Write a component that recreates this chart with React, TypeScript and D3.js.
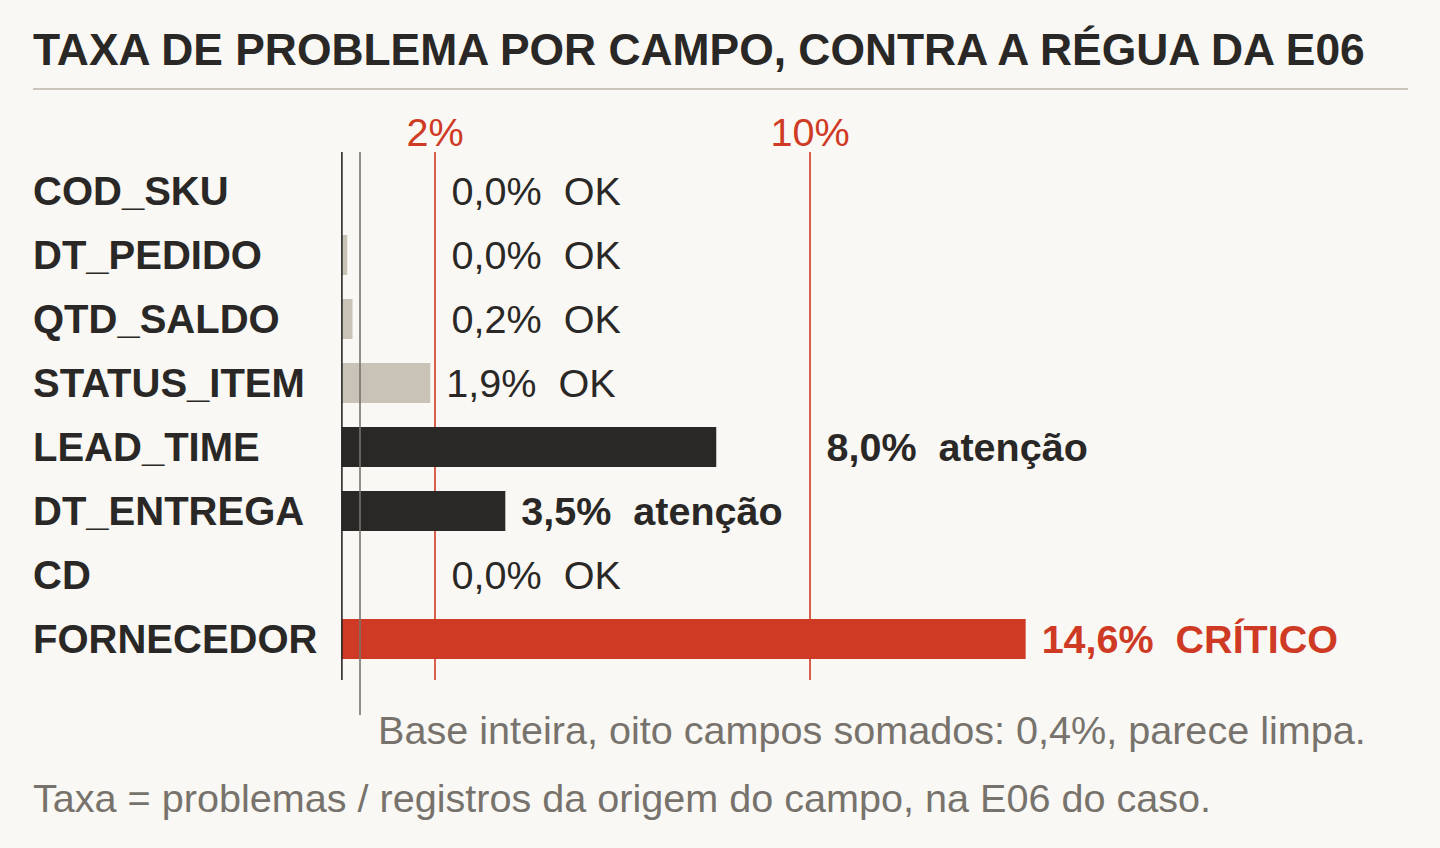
import React, { useEffect, useRef } from 'react';
import * as d3 from 'd3';

// campos, na ordem em que aparecem
const fields = ['COD_SKU', 'DT_PEDIDO', 'QTD_SALDO', 'STATUS_ITEM', 'LEAD_TIME', 'DT_ENTREGA', 'CD', 'FORNECEDOR'];
// taxa de problema (%)
const rates = [0.0, 0.04, 0.24, 1.9, 8.0, 3.5, 0.0, 14.6];
const statuses = ['OK', 'OK', 'OK', 'OK', 'atenção', 'atenção', 'OK', 'CRÍTICO'];
// régua da E06
const thresholds = [2, 10];
const thresholdLabels = ['2%', '10%'];
const baseRate = 0.4;

const title = 'TAXA DE PROBLEMA POR CAMPO, CONTRA A RÉGUA DA E06';
const baseNote = 'Base inteira, oito campos somados: 0,4%, parece limpa.';
const footNote = 'Taxa = problemas / registros da origem do campo, na E06 do caso.';

const W = 1440;
const H = 848;
const FONT = '"Liberation Sans", Arial, Helvetica, sans-serif';
const colors = {
    bg: '#f9f8f4',
    ink: '#2a2826',
    muted: '#77736c',
    rule: '#cbc5bb',
    ok: '#c9c2b7',
    warn: '#2a2826',
    crit: '#cf3a25',
    base: '#77736c',
};
const statusColor: Record<string, string> = { 'OK': colors.ok, 'atenção': colors.warn, 'CRÍTICO': colors.crit };
const labelColor: Record<string, string> = { 'OK': colors.ink, 'atenção': colors.ink, 'CRÍTICO': colors.crit };

const fmt = (v: number) => v.toFixed(1).replace('.', ',') + '%';

export default function App() {
    const ref = useRef<SVGSVGElement>(null);

    useEffect(() => {
        if (!ref.current) return;
        const svg = d3.select(ref.current);
        svg.selectAll('*').remove();

        const x = d3.scaleLinear().domain([0, 15]).range([341.25, 1044.4]);
        const y = d3.scaleBand<string>().domain(fields).range([159, 671]).paddingInner(0.375).paddingOuter(0.1875);
        const top = 152;
        const bottom = 680;
        const fs = 40;
        const fsText = 39.6;
        const capMid = fs * 0.716 / 2;

        svg.append('rect').attr('width', W).attr('height', H).attr('fill', colors.bg);

        // título e régua
        svg.append('text')
            .attr('x', 33).attr('y', 65)
            .attr('font-family', FONT).attr('font-size', 44.4).attr('font-weight', 700)
            .attr('fill', colors.ink)
            .text(title);
        svg.append('line')
            .attr('x1', 33).attr('x2', 1408).attr('y1', 89).attr('y2', 89)
            .attr('stroke', colors.rule).attr('stroke-width', 2);

        // linhas de limite
        const th = svg.append('g');
        th.selectAll('line').data(thresholds).join('line')
            .attr('x1', d => x(d)).attr('x2', d => x(d))
            .attr('y1', top).attr('y2', bottom)
            .attr('stroke', colors.crit).attr('stroke-width', 1.6);
        th.selectAll('text').data(thresholds).join('text')
            .attr('x', d => x(d)).attr('y', 146)
            .attr('text-anchor', 'middle')
            .attr('font-family', FONT).attr('font-size', fsText)
            .attr('fill', colors.crit)
            .text((d, i) => thresholdLabels[i]);

        // barras
        const minW = 6;
        svg.append('g').selectAll('rect').data(fields).join('rect')
            .attr('x', x(0))
            .attr('y', d => y(d)!)
            .attr('height', y.bandwidth())
            .attr('width', (d, i) => rates[i] > 0 ? Math.max(minW, x(rates[i]) - x(0)) : 0)
            .attr('fill', (d, i) => statusColor[statuses[i]]);

        // eixo
        svg.append('line')
            .attr('x1', 341.9).attr('x2', 341.9).attr('y1', top).attr('y2', bottom)
            .attr('stroke', colors.ink).attr('stroke-width', 1.6);

        // linha da base inteira
        svg.append('line')
            .attr('x1', x(baseRate)).attr('x2', x(baseRate)).attr('y1', top).attr('y2', 715)
            .attr('stroke', colors.base).attr('stroke-width', 1.6);

        // nomes dos campos
        svg.append('g').selectAll('text').data(fields).join('text')
            .attr('x', 33)
            .attr('y', d => y(d)! + y.bandwidth() / 2 + capMid)
            .attr('font-family', FONT).attr('font-size', fs).attr('font-weight', 700)
            .attr('fill', colors.ink)
            .text(d => d);

        // rótulos de valor: empurrados para depois da linha de limite que cruzariam
        const labels = svg.append('g').selectAll('text').data(fields).join('text')
            .attr('y', d => y(d)! + y.bandwidth() / 2 + capMid)
            .attr('font-family', FONT)
            .attr('font-size', (d, i) => statuses[i] === 'OK' ? fsText : 39.5)
            .attr('font-weight', (d, i) => statuses[i] === 'OK' ? 400 : 700)
            .attr('fill', (d, i) => labelColor[statuses[i]])
            .style('white-space', 'pre')
            .text((d, i) => `${fmt(rates[i])}  ${statuses[i]}`);
        labels.each(function (d, i) {
            const el = this as SVGTextElement;
            const w = el.getComputedTextLength();
            const barEnd = rates[i] > 0 ? Math.max(x(0) + minW, x(rates[i])) : x(0);
            let start = barEnd + 16;
            for (const t of thresholds) {
                const tx = x(t);
                if (tx > start - 10 && tx < start + w) start = tx + 16.5;
            }
            d3.select(el).attr('x', start);
        });

        // notas
        svg.append('text')
            .attr('x', 378).attr('y', 744)
            .attr('font-family', FONT).attr('font-size', fsText)
            .attr('fill', colors.muted)
            .text(baseNote);
        svg.append('text')
            .attr('x', 33).attr('y', 812)
            .attr('font-family', FONT).attr('font-size', fsText)
            .attr('fill', colors.muted)
            .text(footNote);
    }, []);

    return (
        <div style={{ position: 'absolute', left: 0, top: 0, width: W, height: H, background: colors.bg }}>
            <svg ref={ref} width={W} height={H} style={{ display: 'block' }} />
        </div>
    );
}
